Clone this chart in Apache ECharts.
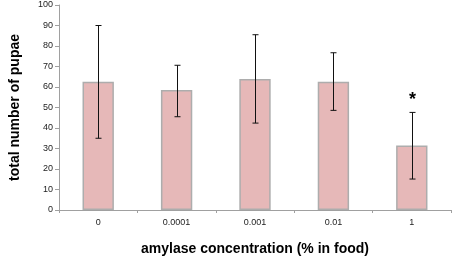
<!DOCTYPE html>
<html><head><meta charset="utf-8">
<script src="https://cdn.jsdelivr.net/npm/echarts@6/dist/echarts.min.js"></script>
<style>html,body{margin:0;padding:0;background:#fff}#c{width:454px;height:266px}</style>
</head><body><div id="c"></div>
<script>
var categories = ['0', '0.0001', '0.001', '0.01', '1'];
var means = [62.6, 58.5, 63.9, 62.6, 31.5];
var errLow = [35, 45.5, 42.4, 48.6, 15.1];
var errHigh = [90, 70.6, 85.5, 76.7, 47.6];
var marks = ['', '', '', '', '*'];
var yTicks = [0, 10, 20, 30, 40, 50, 60, 70, 80, 90, 100];

var chart = echarts.init(document.getElementById('c'), null, {renderer: 'canvas'});
var font = 'Liberation Sans, Arial, sans-serif';
chart.setOption({
  animation: false,
  grid: {left: 54, right: 3, top: 5, bottom: 56},
  xAxis: {
    type: 'category', data: categories,
    name: 'amylase concentration (% in food)', nameLocation: 'middle', nameGap: 32,
    nameTextStyle: {fontFamily: font, fontWeight: 'bold', fontSize: 14, color: '#000'},
    axisLine: {lineStyle: {color: '#a0a0a0'}},
    axisTick: {show: true, length: 3, lineStyle: {color: '#a0a0a0'}},
    axisLabel: {fontFamily: font, fontSize: 9, color: '#222', margin: 8}
  },
  yAxis: {
    type: 'value', min: 0, max: 100, interval: 10,
    name: 'total number of pupae', nameLocation: 'middle', nameGap: 37,
    nameTextStyle: {fontFamily: font, fontWeight: 'bold', fontSize: 14, color: '#000'},
    axisLine: {show: true, lineStyle: {color: '#a0a0a0'}},
    axisTick: {show: true, length: 4, lineStyle: {color: '#a0a0a0'}},
    splitLine: {show: false},
    axisLabel: {fontFamily: font, fontSize: 9, color: '#222', margin: 6,
      formatter: function (v) { return yTicks.indexOf(v) >= 0 ? String(v) : ''; }}
  },
  series: [{
    type: 'bar', data: means, barWidth: '40%',
    itemStyle: {color: '#e6b8b8', borderColor: '#adadad', borderWidth: 1.5}
  }, {
    type: 'custom',
    data: categories.map(function (c, i) { return [i, errLow[i], errHigh[i]]; }),
    renderItem: function (params, api) {
      var i = api.value(0);
      var lo = api.coord([i, api.value(1)]);
      var hi = api.coord([i, api.value(2)]);
      var x = Math.round(lo[0]) + 0.5;
      var w = 3;
      var st = {stroke: '#111', lineWidth: 1};
      var children = [
        {type: 'line', shape: {x1: x, y1: hi[1], x2: x, y2: lo[1]}, style: st},
        {type: 'line', shape: {x1: x - w, y1: hi[1], x2: x + w, y2: hi[1]}, style: st},
        {type: 'line', shape: {x1: x - w, y1: lo[1], x2: x + w, y2: lo[1]}, style: st}
      ];
      var m = marks[params.dataIndex];
      if (m) {
        children.push({type: 'text', style: {text: m, x: x, y: hi[1] - 3, align: 'center',
          verticalAlign: 'bottom', fontSize: 18, fontWeight: 'bold', fontFamily: font, fill: '#000'}});
      }
      return {type: 'group', children: children};
    },
    z: 10
  }]
});
</script></body></html>
